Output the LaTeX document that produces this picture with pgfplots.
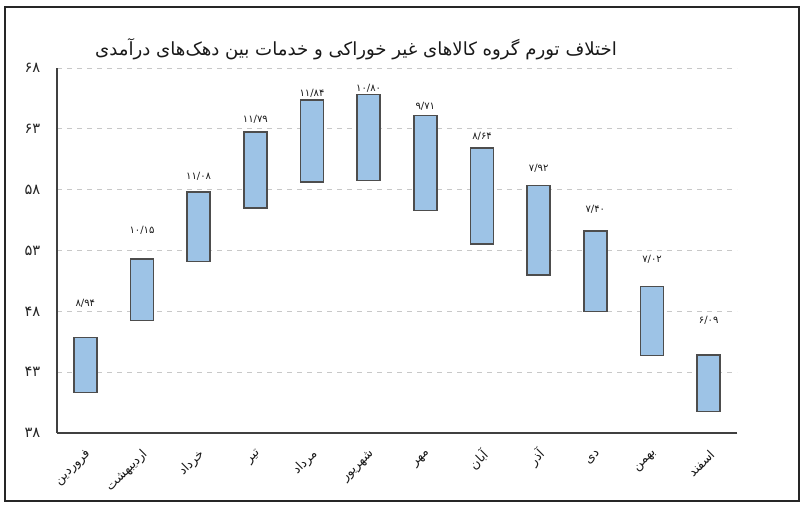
\documentclass[border=0pt]{standalone}
\usepackage{pgfplots}
\usepackage{pgfplotstable}
\pgfplotsset{compat=1.18}
\usepackage{fontspec}
\newfontfamily\fa[Script=Arabic]{DejaVu Sans}
\TeXXeTstate=1
\definecolor{barfill}{HTML}{9DC3E6}
\definecolor{barline}{HTML}{4D4D4D}
\definecolor{gridc}{HTML}{C8C8C8}

\pgfplotstableread{
x bot top ly lab
0 41.31 45.84 51.40 ۸/۹۴
1 47.24 52.31 57.00 ۱۰/۱۵
2 52.09 57.79 60.45 ۱۱/۰۸
3 56.48 62.73 64.90 ۱۱/۷۹
4 58.64 65.38 66.50 ۱۱/۸۴
5 58.75 65.82 66.80 ۱۰/۸۰
6 56.28 64.09 65.66 ۹/۷۱
7 53.52 61.44 63.33 ۸/۶۴
8 50.99 58.34 61.22 ۷/۹۲
9 47.98 54.61 58.12 ۷/۴۰
10 44.36 50.03 54.55 ۷/۰۲
11 39.75 44.41 50.17 ۶/۰۹
}\bars

\begin{document}
\begin{tikzpicture}
\path[use as bounding box] (0,0) rectangle (600.75pt,383.25pt);
\draw[line width=0.8pt, black!85] (3.75pt,7.5pt) rectangle (599.25pt,378pt);
\node[font=\fa\fontsize{13.6}{16}\selectfont, text=black!90] at (267pt,346.5pt) {\beginR اختلاف تورم گروه کالاهای غیر خوراکی و خدمات بین دهک‌های درآمدی\endR};
\begin{axis}[
  at={(42.75pt,58.5pt)}, anchor=south west,
  scale only axis, width=510pt, height=273.75pt,
  xmin=-0.5, xmax=11.5, ymin=38, ymax=68,
  ybar stacked, bar width=17.25pt,
  axis x line=bottom, axis y line=left,
  axis line style={-, line width=1.3pt, black!75},
  xtick={0,...,11},
  xticklabels={{\beginR فروردین\endR},{\beginR اردیبهشت\endR},{\beginR خرداد\endR},{\beginR تیر\endR},{\beginR مرداد\endR},{\beginR شهریور\endR},{\beginR مهر\endR},{\beginR آبان\endR},{\beginR آذر\endR},{\beginR دی\endR},{\beginR بهمن\endR},{\beginR اسفند\endR}},
  xticklabel style={font=\fa\fontsize{9.5}{11}\selectfont, yshift=-12pt, xshift=5pt, rotate=45, anchor=east, text=black!90},
  ytick={38,43,48,53,58,63,68},
  yticklabels={۳۸,۴۳,۴۸,۵۳,۵۸,۶۳,۶۸},
  yticklabel style={font=\fa\fontsize{11}{12}\selectfont, xshift=-9pt, text=black!85},
  major tick length=0pt,
  ymajorgrids,
  grid style={gridc, dash pattern=on 4pt off 3.5pt, line width=0.7pt},
  clip=false,
]
\addplot[draw=none, fill=none] table[x=x, y=bot] {\bars};
\addplot[fill=barfill, draw=barline, line width=1.1pt] table[x=x, y expr=\thisrow{top}-\thisrow{bot}] {\bars};
\addplot[draw=none, fill=none,
  nodes near coords={\pgfplotspointmeta},
  point meta=explicit symbolic,
  every node near coord/.style={font=\fa\fontsize{7.5}{8}\selectfont, anchor=center, text=black!90}
] table[x=x, y expr=\thisrow{ly}-\thisrow{top}, meta=lab] {\bars};
\end{axis}
\end{tikzpicture}
\end{document}
